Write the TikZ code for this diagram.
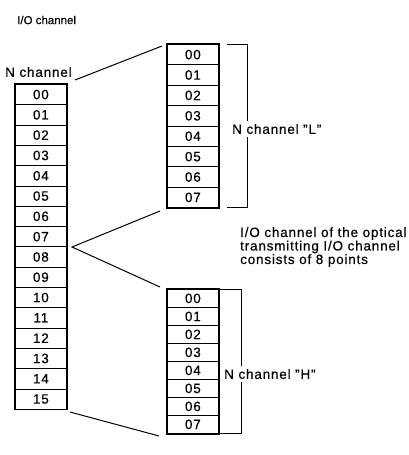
\documentclass[tikz,border=0pt]{standalone}
\usepackage{fontspec}
\setmainfont{Liberation Sans}[LetterSpace=6, FakeBold=0.4]
\newfontfamily\titlefont{Liberation Sans}[FakeBold=0.4]
\begin{document}
\begin{tikzpicture}[x=1pt,y=-1pt,
  cellL/.style={draw, line width=0.8pt, minimum width=51pt, minimum height=20.3pt, inner sep=0pt, anchor=north west, font=\fontsize{13.5}{13.5}\selectfont},
  cellT/.style={cellL, minimum height=20.4pt},
  cellB/.style={cellL, minimum height=18pt},
  frame/.style={line width=1.7pt},
  conn/.style={line width=1pt},
  brk/.style={line width=1pt},
  lbl/.style={font=\fontsize{13.5}{13.5}\selectfont, inner sep=0pt, anchor=west},
  brklbl/.style={lbl, fill=white, inner xsep=1pt, inner ysep=3pt}]
\useasboundingbox (0,0) rectangle (409,455);
% title texts
\node[lbl, font=\titlefont\fontsize{11.5}{11.5}\selectfont] (title) at (17,20) {I/O channel};
\node[lbl] (nch) at (5,72) {N channel};
% left column
\foreach \i in {0,...,15}{
  \node[cellL] (L\i) at (15,{84+\i*20.3}) {\ifnum\i<10 0\fi\i};
}
\draw[frame] (L0.north west) rectangle (L15.south east);
% top box
\foreach \i in {0,...,7}{
  \node[cellT] (T\i) at (167,{44+\i*20.4}) {0\i};
}
\draw[frame] (T0.north west) rectangle (T7.south east);
% bottom box
\foreach \i in {0,...,7}{
  \node[cellB] (B\i) at (167,{289+\i*18}) {0\i};
}
\draw[frame] (B0.north west) rectangle (B7.south east);
% connectors
\coordinate (c1a) at (75,80);
\coordinate (c1b) at (162,46);
\coordinate (apex) at (72,247);
\coordinate (c2b) at (160,211);
\coordinate (c3b) at (160,287);
\coordinate (c4a) at (70,412);
\coordinate (c4b) at (159,436);
\draw[conn] (c1a) -- (c1b);
\draw[conn] (c2b) -- (apex) -- (c3b);
\draw[conn] (c4a) -- (c4b);
% brackets
\coordinate (tb1) at (227,44);
\coordinate (tb2) at (247,44);
\coordinate (tb3) at (247,207);
\coordinate (tb4) at (227,207);
\draw[brk] (tb1) -- (tb2) -- (tb3) -- (tb4);
\node[brklbl] (Llbl) at (231,129) {N channel ''L''};
\coordinate (bb1) at (219,289);
\coordinate (bb2) at (241,289);
\coordinate (bb3) at (241,433);
\coordinate (bb4) at (219,433);
\draw[brk] (bb1) -- (bb2) -- (bb3) -- (bb4);
\node[brklbl] (Hlbl) at (223,374) {N channel ''H''};
% explanation
\node[lbl, anchor=north west, align=left, font=\fontsize{13.5}{13.5}\selectfont] (expl) at (240,227)
  {I/O channel of the optical\\transmitting I/O channel\\consists of 8 points};
\end{tikzpicture}
\end{document}
